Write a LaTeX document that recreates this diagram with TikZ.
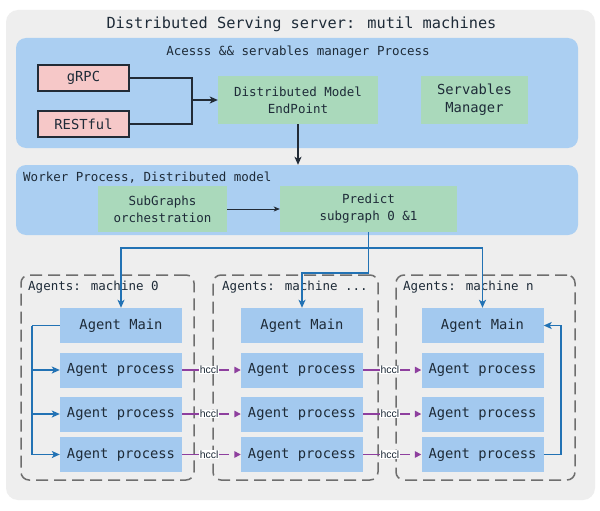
\documentclass[tikz,border=0pt]{standalone}
\usepackage{fontspec}
\newfontfamily\monof{DejaVu Sans Mono}
\newfontfamily\hsans{Liberation Sans}
\usetikzlibrary{arrows.meta,calc}
\definecolor{outergray}{HTML}{EEEEEE}
\definecolor{procblue}{HTML}{ABCFF2}
\definecolor{agentblue}{HTML}{A3C9EF}
\definecolor{greenbox}{HTML}{AAD9BB}
\definecolor{pinkbox}{HTML}{F6C8C8}
\definecolor{txt}{HTML}{1E2B38}
\definecolor{bluel}{HTML}{2272B4}
\definecolor{darkl}{HTML}{222B36}
\definecolor{purplel}{HTML}{8E3F9E}
\definecolor{dashg}{HTML}{6E6E6E}
\tikzset{
  every node/.style={text=txt},
  box/.style={rectangle, inner sep=0pt, align=center},
  outerbox/.style={box, fill=outergray, rounded corners=12pt},
  procbox/.style={box, fill=procblue, rounded corners=10pt},
  greenb/.style={box, fill=greenbox, font=\monof\fontsize{12.5}{17}\selectfont},
  greenbig/.style={box, fill=greenbox, font=\monof\fontsize{13.8}{18}\selectfont},
  pinkb/.style={box, fill=pinkbox, draw=darkl, line width=1.2pt, font=\monof\fontsize{13.8}{16}\selectfont, minimum width=91pt, minimum height=26pt},
  agentb/.style={box, fill=agentblue, font=\monof\fontsize{13.8}{16}\selectfont, minimum width=122pt, minimum height=35pt},
  machbox/.style={box, draw=dashg, line width=1.5pt, dash pattern=on 12pt off 6pt, rounded corners=8pt, minimum height=205pt},
  lbl/.style={inner sep=0pt, font=\monof\fontsize{12.5}{15}\selectfont},
  darkarrow/.style={draw=darkl, line width=1.4pt, -{Stealth[length=8pt,width=7pt,inset=2pt]}},
  darkline/.style={draw=darkl, line width=1.4pt},
  thinarrow/.style={draw=darkl, line width=1pt, -{Stealth[length=6pt,width=5pt,inset=1.5pt]}},
  blueline/.style={draw=bluel, line width=1.6pt},
  bluearrow/.style={draw=bluel, line width=1.6pt, -{Stealth[length=8pt,width=7pt,inset=2pt]}},
  hcclline/.style={draw=purplel, line width=1.4pt, dash pattern=on 47pt off 20pt, -{Triangle[length=6.5pt,width=6.5pt]}},
  hlabel/.style={fill=white, inner sep=0.6pt, font=\hsans\fontsize{10.5}{11}\selectfont, text=txt}
}
\begin{document}
\begin{tikzpicture}[x=1pt,y=-1pt]
\useasboundingbox (0,0) rectangle (600,511);
\fill[white] (0,0) rectangle (600,511);
% containers
\node[outerbox, minimum width=589pt, minimum height=490pt] (outer) at (300.5,255) {};
\node[lbl, font=\monof\fontsize{15.3}{18}\selectfont] (title) at (301.5,24) {Distributed Serving server: mutil machines};
\node[procbox, minimum width=562pt, minimum height=110pt] (access) at (297,93) {};
\node[lbl] (accesslbl) at (298,52) {Acesss \&\& servables manager Process};
\node[procbox, minimum width=562pt, minimum height=70pt] (worker) at (297,200) {};
\node[lbl, anchor=west] (workerlbl) at (23,178) {Worker Process, Distributed model};
% top boxes
\node[pinkb] (grpc) at (83.5,78) {gRPC};
\node[pinkb] (rest) at (83.5,124) {RESTful};
\node[greenb, minimum width=160pt, minimum height=48pt] (dme) at (298,100) {Distributed Model\\EndPoint};
\node[greenbig, minimum width=107pt, minimum height=48pt] (sm) at (474.5,100) {Servables\\Manager};
\node[greenb, minimum width=129pt, minimum height=46pt] (sub) at (162.5,209) {SubGraphs\\orchestration};
\node[greenb, minimum width=177pt, minimum height=46pt] (pred) at (368.5,209) {Predict\\subgraph 0 \&1};
% top connectors
\coordinate (jn) at (192,100);
\draw[darkline] (grpc.east) -| (jn);
\draw[darkline] (rest.east) -| (jn);
\draw[darkarrow] (jn) -- (dme.west);
\draw[darkarrow] (dme.south) -- (dme.south |- worker.north);
\draw[thinarrow] (sub.east) -- (pred.west);
% machine boxes
\node[machbox, minimum width=173pt] (m0) at (107.5,377.5) {};
\node[machbox, minimum width=165pt] (m1) at (295.5,377.5) {};
\node[machbox, minimum width=179pt] (m2) at (485.5,377.5) {};
\node[lbl, anchor=west] (m0lbl) at (28,287) {Agents: machine 0};
\node[lbl, anchor=west] (m1lbl) at (222,287) {Agents: machine ...};
\node[lbl, anchor=west] (m2lbl) at (403,287) {Agents: machine n};
% agents
\foreach \c/\x in {0/121,1/302,2/482.5}{
  \node[agentb] (a\c m) at (\x,325.5) {Agent Main};
  \node[agentb] (a\c p1) at (\x,370) {Agent process};
  \node[agentb] (a\c p2) at (\x,414) {Agent process};
  \node[agentb] (a\c p3) at (\x,454.5) {Agent process};
}
% blue connectors
\draw[blueline] (pred.south) -- ++(0,16) coordinate (bj);
\draw[bluearrow] (bj) -| (a0m.north);
\draw[bluearrow] (bj) -| (a2m.north);
\draw[bluearrow] (bj) -- ++(0,25) -| (a1m.north);
\draw[blueline] (a0m.west) -- ++(-28,0) coordinate (lb);
\foreach \r in {1,2,3}{
  \draw[bluearrow] (lb) |- (a0p\r.west);
}
\draw[bluearrow] (a2p3.east) -- ++(17,0) |- (a2m.east);
% hccl links
\foreach \r in {1,2,3}{
  \draw[hcclline] (a0p\r.east) -- node[hlabel, pos=0.46] {hccl} (a1p\r.west);
  \draw[hcclline] (a1p\r.east) -- node[hlabel, pos=0.46] {hccl} (a2p\r.west);
}
\end{tikzpicture}
\end{document}
